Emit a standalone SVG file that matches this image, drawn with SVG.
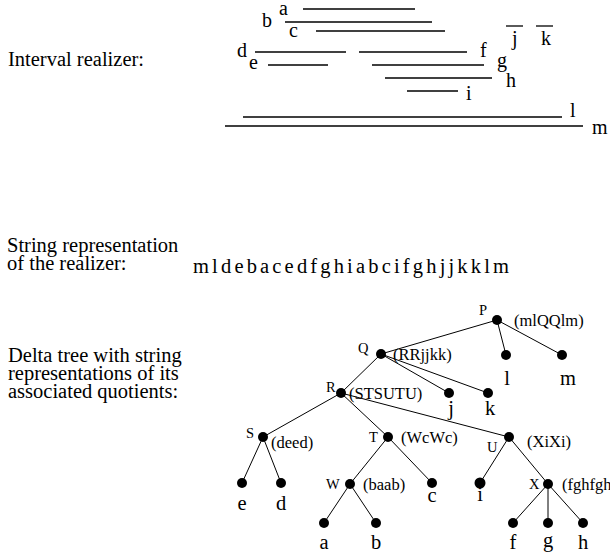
<svg xmlns="http://www.w3.org/2000/svg" width="610" height="554" viewBox="0 0 610 554" font-family="'Liberation Serif', 'Times New Roman', 'DejaVu Serif', serif">
<style>
text{fill:#000}
.lab{font-size:20.5px}
.iv{font-size:20px}
.nm{font-size:14.5px}
.q{font-size:16.5px}
.lf{font-size:20.5px;text-anchor:middle}
.seg{stroke:#000;stroke-width:1.3}
.e{stroke:#000;stroke-width:1}
.dot{fill:#000}
</style>
<rect width="610" height="554" fill="#fff"/>
<g id="labels">
<text class="lab" x="8" y="66">Interval realizer:</text>
<text class="lab" x="7" y="252">String representation</text>
<text class="lab" x="7" y="270">of the realizer:</text>
<text class="lab" x="193" y="273" textLength="316" lengthAdjust="spacing">m l d e b a c e d f g h i a b c i f g h j j k k l m</text>
<text class="lab" x="8" y="362">Delta tree with string</text>
<text class="lab" x="8" y="380">representations of its</text>
<text class="lab" x="8" y="398">associated quotients:</text>
</g>
<g id="realizer">
<line class="seg" x1="303" y1="9" x2="415" y2="9"/>
<line class="seg" x1="285" y1="22" x2="432" y2="22"/>
<line class="seg" x1="316" y1="31" x2="445" y2="31"/>
<line class="seg" x1="255" y1="52" x2="346" y2="52"/>
<line class="seg" x1="359" y1="52" x2="467" y2="52"/>
<line class="seg" x1="268" y1="65" x2="328" y2="65"/>
<line class="seg" x1="372" y1="65" x2="484" y2="65"/>
<line class="seg" x1="385" y1="78" x2="492" y2="78"/>
<line class="seg" x1="407" y1="91" x2="458" y2="91"/>
<line class="seg" x1="243" y1="117" x2="562" y2="117"/>
<line class="seg" x1="225" y1="126" x2="583" y2="126"/>
<line class="seg" x1="506" y1="26" x2="523" y2="26"/>
<line class="seg" x1="536" y1="26" x2="553" y2="26"/>
<text class="iv" x="279" y="15">a</text>
<text class="iv" x="262" y="27">b</text>
<text class="iv" x="289" y="37">c</text>
<text class="iv" x="237" y="57">d</text>
<text class="iv" x="249" y="69">e</text>
<text class="iv" x="480" y="57">f</text>
<text class="iv" x="497" y="67">g</text>
<text class="iv" x="506" y="87">h</text>
<text class="iv" x="466" y="100">i</text>
<text class="iv" x="512" y="45">j</text>
<text class="iv" x="541" y="45">k</text>
<text class="iv" x="570" y="117">l</text>
<text class="iv" x="592" y="134">m</text>
</g>
<g id="connectors">
<line class="e" x1="497" y1="320" x2="381" y2="354"/>
<line class="e" x1="497" y1="320" x2="506" y2="355"/>
<line class="e" x1="497" y1="320" x2="562" y2="355"/>
<line class="e" x1="381" y1="354" x2="341" y2="393"/>
<line class="e" x1="381" y1="354" x2="449" y2="393"/>
<line class="e" x1="381" y1="354" x2="488" y2="393"/>
<line class="e" x1="341" y1="393" x2="263" y2="437"/>
<line class="e" x1="341" y1="393" x2="388" y2="437"/>
<line class="e" x1="341" y1="393" x2="509" y2="437"/>
<line class="e" x1="263" y1="437" x2="242" y2="483"/>
<line class="e" x1="263" y1="437" x2="281" y2="483"/>
<line class="e" x1="388" y1="437" x2="350" y2="484"/>
<line class="e" x1="388" y1="437" x2="432" y2="483"/>
<line class="e" x1="509" y1="437" x2="480" y2="483"/>
<line class="e" x1="509" y1="437" x2="548" y2="484"/>
<line class="e" x1="350" y1="484" x2="324" y2="523"/>
<line class="e" x1="350" y1="484" x2="376" y2="523"/>
<line class="e" x1="548" y1="484" x2="513" y2="523"/>
<line class="e" x1="548" y1="484" x2="548" y2="523"/>
<line class="e" x1="548" y1="484" x2="583" y2="523"/>
</g>
<g id="node-P"><circle class="dot" cx="497" cy="320" r="5"/><text class="nm" x="479" y="315">P</text><text class="q" x="514" y="326">(mlQQlm)</text></g>
<g id="node-Q"><circle class="dot" cx="381" cy="354" r="5"/><text class="nm" x="358" y="353">Q</text><text class="q" x="393" y="360">(RRjjkk)</text></g>
<g id="node-R"><circle class="dot" cx="341" cy="393" r="5"/><text class="nm" x="326" y="392">R</text><text class="q" x="349" y="399">(STSUTU)</text></g>
<g id="node-S"><circle class="dot" cx="263" cy="437" r="5"/><text class="nm" x="246" y="438">S</text><text class="q" x="271" y="448">(deed)</text></g>
<g id="node-T"><circle class="dot" cx="388" cy="437" r="5"/><text class="nm" x="369" y="442">T</text><text class="q" x="401" y="443">(WcWc)</text></g>
<g id="node-U"><circle class="dot" cx="509" cy="437" r="5"/><text class="nm" x="487" y="452">U</text><text class="q" x="527" y="447">(XiXi)</text></g>
<g id="node-W"><circle class="dot" cx="350" cy="484" r="5"/><text class="nm" x="326" y="489">W</text><text class="q" x="363" y="490">(baab)</text></g>
<g id="node-X"><circle class="dot" cx="548" cy="484" r="5"/><text class="nm" x="529" y="489">X</text><text class="q" x="562" y="490">(fghfgh)</text></g>
<g id="node-l"><circle class="dot" cx="506" cy="355" r="5"/><text class="lf" x="507" y="385">l</text></g>
<g id="node-m"><circle class="dot" cx="562" cy="355" r="5"/><text class="lf" x="568" y="385">m</text></g>
<g id="node-j"><circle class="dot" cx="449" cy="393" r="5"/><text class="lf" x="451" y="415">j</text></g>
<g id="node-k"><circle class="dot" cx="488" cy="393" r="5"/><text class="lf" x="490" y="415">k</text></g>
<g id="node-e"><circle class="dot" cx="242" cy="483" r="5"/><text class="lf" x="242" y="510">e</text></g>
<g id="node-d"><circle class="dot" cx="281" cy="483" r="5"/><text class="lf" x="281" y="510">d</text></g>
<g id="node-c"><circle class="dot" cx="432" cy="483" r="5"/><text class="lf" x="432" y="502">c</text></g>
<g id="node-i"><text class="lf" x="480" y="500.5">i</text><circle class="dot" cx="480" cy="483" r="5.5"/></g>
<g id="node-a"><circle class="dot" cx="324" cy="523" r="5"/><text class="lf" x="324" y="549">a</text></g>
<g id="node-b"><circle class="dot" cx="376" cy="523" r="5"/><text class="lf" x="376" y="549">b</text></g>
<g id="node-f"><circle class="dot" cx="513" cy="523" r="5"/><text class="lf" x="513" y="549">f</text></g>
<g id="node-g"><circle class="dot" cx="548" cy="523" r="5"/><text class="lf" x="548" y="547">g</text></g>
<g id="node-h"><circle class="dot" cx="583" cy="523" r="5"/><text class="lf" x="583" y="549">h</text></g>
</svg>
